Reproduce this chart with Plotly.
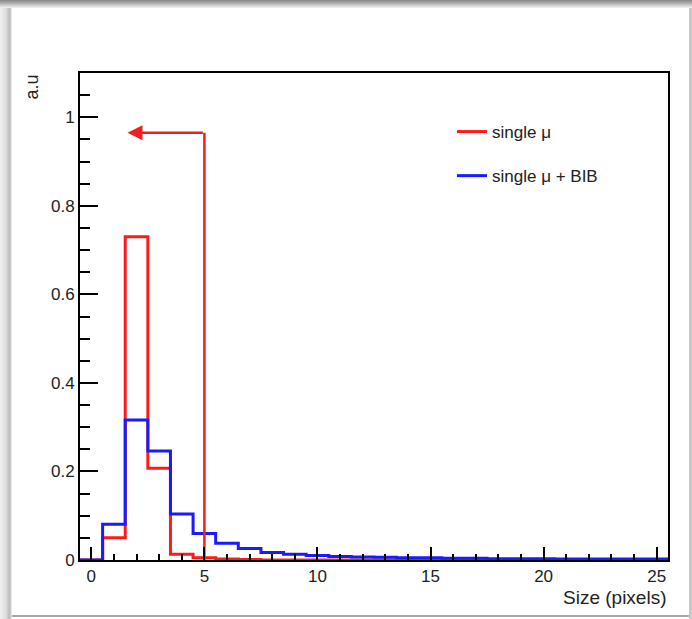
import plotly.graph_objects as go

# ---------------- data ----------------
bin_edges = [i - 0.5 for i in range(27)]  # -0.5 ... 25.5
single_mu = [0.0, 0.050, 0.730, 0.207, 0.013, 0.005, 0.002, 0.001, 0.0, 0.0,
             0.0, 0.0, 0.0, 0.0, 0.0, 0.0, 0.0, 0.0, 0.0, 0.0,
             0.0, 0.0, 0.0, 0.0, 0.0, 0.0]
single_mu_bib = [0.0, 0.081, 0.316, 0.246, 0.104, 0.060, 0.038, 0.026, 0.017, 0.013,
                 0.010, 0.008, 0.007, 0.006, 0.005, 0.005, 0.004, 0.004, 0.003, 0.003,
                 0.003, 0.002, 0.002, 0.002, 0.002, 0.002]
series_names = ["single μ", "single μ + BIB"]
series_colors = ["#ff1a1a", "#1a1aff"]

arrow_x = [5.0, 5.0]
arrow_y = [0.0, 0.965]
arrow_tip_x = 1.6

x_tickvals = [0, 5, 10, 15, 20, 25]
y_tickvals = [0, 0.2, 0.4, 0.6, 0.8, 1.0]
x_title = "Size (pixels)"
y_title = "a.u"

# ---------------- layout geometry ----------------
W, H = 692, 619
L, R, T, B = 80, 668, 73, 560
PW, PH = R - L, B - T


def px(xp):
    return (xp - L) / PW


def py(yp):
    return (B - yp) / PH


FONT = "Liberation Sans, Arial, Helvetica, sans-serif"
TXT = "#222222"

fig = go.Figure()

for vals, name, col in zip([single_mu, single_mu_bib], series_names, series_colors):
    fig.add_trace(go.Scatter(
        x=bin_edges, y=vals + [vals[-1]], mode="lines", line_shape="hv",
        line=dict(color=col, width=3), name=name, legendgroup=name,
        hoverinfo="skip"))

fig.add_trace(go.Scatter(x=arrow_x, y=arrow_y, mode="lines",
                         line=dict(color=series_colors[0], width=2.5),
                         showlegend=False, hoverinfo="skip"))

annotations = [
    dict(x=arrow_tip_x, y=arrow_y[1], ax=arrow_x[1], ay=arrow_y[1],
         xref="x", yref="y", axref="x", ayref="y", text="", showarrow=True,
         arrowhead=2, arrowsize=1.2, arrowwidth=2.5, arrowcolor="#f02020", standoff=0),
    dict(x=px(R), y=py(597), xref="paper", yref="paper", text=x_title, showarrow=False,
         xanchor="right", yanchor="middle", font=dict(family=FONT, size=19, color=TXT)),
    dict(x=px(31), y=py(T), xref="paper", yref="paper", text=y_title, showarrow=False,
         textangle=-90, xanchor="center", yanchor="top",
         font=dict(family=FONT, size=18, color=TXT)),
]

# screenshot window frame decoration
shapes = []
top_cols = ["#8c8c8c", "#999999", "#a6a6a6", "#b3b3b3", "#c2c2c2", "#d0d0d0", "#dedede", "#ececec"]
for i, c in enumerate(top_cols):
    shapes.append(dict(type="rect", xref="paper", yref="paper", x0=px(0), x1=px(W),
                       y0=py(i), y1=py(i + 1), fillcolor=c, line_width=0, layer="below"))
left_cols = ["#eeeeee", "#ececec", "#e9e9e9", "#e6e6e6", "#e2e2e2", "#dedede", "#d8d8d8",
             "#cfcfcf", "#c4c4c4", "#bdbdbd", "#cccccc", "#e4e4e4"]
for i, c in enumerate(left_cols):
    shapes.append(dict(type="rect", xref="paper", yref="paper", x0=px(i), x1=px(i + 1),
                       y0=py(8), y1=py(H), fillcolor=c, line_width=0, layer="below"))
shapes.append(dict(type="rect", xref="paper", yref="paper", x0=px(12), x1=px(W),
                   y0=py(615), y1=py(617), fillcolor="#a8a8a8", line_width=0, layer="below"))
shapes.append(dict(type="rect", xref="paper", yref="paper", x0=px(689), x1=px(W),
                   y0=py(8), y1=py(H), fillcolor="#c8c8c8", line_width=0, layer="below"))

fig.update_layout(
    width=W, height=H,
    margin=dict(l=L, r=W - R, t=T, b=H - B, pad=0),
    paper_bgcolor="white", plot_bgcolor="white",
    font=dict(family=FONT, size=17, color=TXT),
    showlegend=True,
    legend=dict(x=px(452), y=py(114), xanchor="left", yanchor="top",
                bgcolor="rgba(0,0,0,0)", borderwidth=0, traceorder="grouped",
                tracegroupgap=19, font=dict(family=FONT, size=17, color=TXT)),
    annotations=annotations,
    shapes=shapes,
)

fig.update_xaxes(range=[-0.5, 25.5], tickmode="array", tickvals=x_tickvals,
                 ticks="inside", ticklen=13, tickwidth=2, tickcolor="black",
                 minor=dict(dtick=1, tick0=0, ticks="inside", ticklen=6, tickwidth=2, tickcolor="black"),
                 showline=True, linecolor="black", linewidth=2, mirror=True,
                 showgrid=False, zeroline=False,
                 tickfont=dict(family=FONT, size=17, color=TXT))
fig.update_yaxes(range=[0, 1.1], tickmode="array", tickvals=y_tickvals,
                 ticktext=["0", "0.2", "0.4", "0.6", "0.8", "1"],
                 ticks="inside", ticklen=18, tickwidth=2, tickcolor="black",
                 minor=dict(dtick=0.05, tick0=0, ticks="inside", ticklen=10, tickwidth=2, tickcolor="black"),
                 showline=True, linecolor="black", linewidth=2, mirror=True,
                 showgrid=False, zeroline=False,
                 tickfont=dict(family=FONT, size=17, color=TXT))

fig.write_html("out.html")
